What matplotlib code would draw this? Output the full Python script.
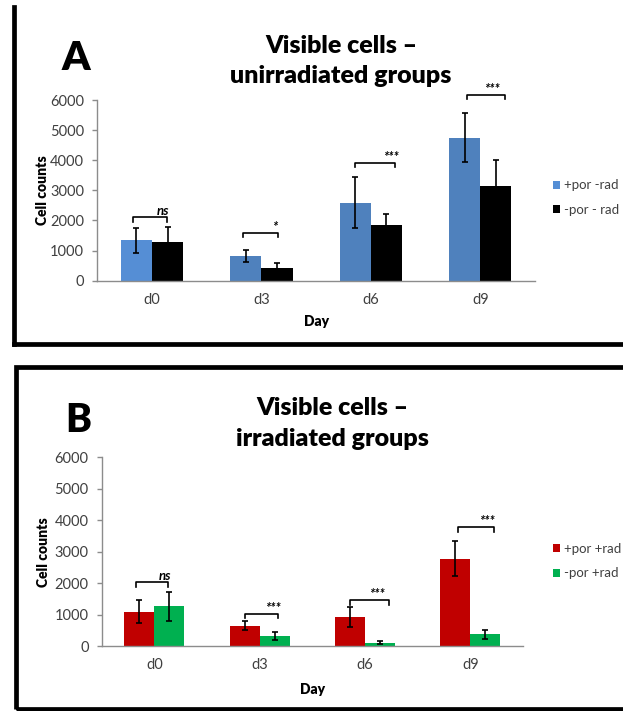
import matplotlib
matplotlib.use("Agg")
import matplotlib.pyplot as plt
from matplotlib.patches import Rectangle
from matplotlib.lines import Line2D
import numpy as np

plt.rcParams['font.family'] = ['Lato', 'DejaVu Sans']

# data
days = ["d0", "d3", "d6", "d9"]

# panel A (unirradiated)
a_labels = ["+por -rad", "-por - rad"]
a_plus = [1340, 820, 2590, 4750]
a_plus_err = [405, 210, 840, 815]
a_minus = [1290, 410, 1850, 3140]
a_minus_err = [480, 165, 365, 860]
a_sig = ["ns", "*", "***", "***"]
a_br_top = [2115, 1595, 3920, 6180]
a_br_left = [-0.17, -0.17, -0.143, -0.125]
a_br_right = [0.137, 0.15, 0.22, 0.228]
a_sig_dx = [0.10, 0.12, 0.18, 0.11]

# panel B (irradiated)
b_labels = ["+por +rad", "-por +rad"]
b_plus = [1090, 650, 930, 2780]
b_plus_err = [370, 145, 320, 560]
b_minus = [1270, 320, 100, 370]
b_minus_err = [460, 140, 45, 140]
b_sig = ["ns", "***", "***", "***"]
b_br_top = [2025, 1029, 1453, 3786]
b_br_left = [-0.175, -0.14, -0.145, -0.117]
b_br_right = [0.13, 0.17, 0.225, 0.222]
b_sig_dx = [0.10, 0.126, 0.114, 0.156]

W, H = 623, 711
fig = plt.figure(figsize=(W / 100, H / 100), dpi=100)
fig.patch.set_facecolor("white")


def fx(x):
    return x / W


def fy(y):
    return 1 - y / H


def panel(rect, plus, plus_err, minus, minus_err, c_plus, c_minus, labels,
          sig, br_top, br_left, br_right, sig_dx, leg_y):
    ax = fig.add_axes(rect)
    x = np.arange(len(days))
    w = 0.285
    ekw = dict(ecolor="black", elinewidth=1.2, capsize=2.3, capthick=1.2)
    ax.bar(x - w / 2, plus, w, yerr=plus_err, color=c_plus, error_kw=ekw,
           label=labels[0])
    ax.bar(x + w / 2, minus, w, yerr=minus_err, color=c_minus, error_kw=ekw,
           label=labels[1])
    ax.set_xlim(-0.5, 3.5)
    ax.set_ylim(0, 6000)
    ax.set_yticks(range(0, 6001, 1000))
    ax.set_xticks(x)
    ax.set_xticklabels(days)
    for s in ["top", "right"]:
        ax.spines[s].set_visible(False)
    for s in ["left", "bottom"]:
        ax.spines[s].set_color("#8c8c8c")
        ax.spines[s].set_linewidth(1.0)
    ax.tick_params(axis="y", length=3.4, width=1.0, color="#8c8c8c",
                   pad=6, labelsize=10.5, labelcolor="#404040")
    ax.tick_params(axis="x", length=0, pad=8.5, labelsize=10.5,
                   labelcolor="#404040")
    # significance brackets
    leg = 150
    for i in range(len(days)):
        xl, xr, yt = i + br_left[i], i + br_right[i], br_top[i]
        ax.plot([xl, xl, xr, xr], [yt - leg, yt, yt, yt - leg],
                color="black", lw=1.2, clip_on=False)
        ax.annotate(sig[i], (i + sig_dx[i], yt), xytext=(0, 0),
                    textcoords="offset points", ha="center", va="bottom",
                    fontsize=9.5, fontweight="bold", fontstyle="italic",
                    annotation_clip=False)
    ax.legend(loc="center left", bbox_to_anchor=(fx(553), fy(leg_y)),
              bbox_transform=fig.transFigure, frameon=False, fontsize=9.5,
              handlelength=0.55, handleheight=0.55, handletextpad=0.3,
              labelspacing=0.95, borderpad=0, borderaxespad=0,
              labelcolor="#404040")
    return ax


# panel A
axA = panel([fx(97.3), fy(280.7), fx(535) - fx(97.3), fy(100) - fy(280.7)],
            a_plus, a_plus_err, a_minus, a_minus_err,
            ["#558ED5", "#4F81BD", "#4F81BD", "#4F81BD"], "black", a_labels,
            a_sig, a_br_top, a_br_left, a_br_right, a_sig_dx, 197.5)
fig.text(fx(76), fy(70), "A", fontsize=29, fontweight="heavy",
         ha="center", va="baseline")
fig.text(fx(341), fy(53), "Visible cells \u2013", fontsize=18,
         fontweight="heavy", ha="center", va="baseline")
fig.text(fx(341), fy(83), "unirradiated groups", fontsize=18,
         fontweight="heavy", ha="center", va="baseline")
fig.text(fx(42.5), fy(190), "Cell counts", fontsize=10, fontweight="heavy",
         rotation=90, ha="center", va="center")
fig.text(fx(317), fy(321.5), "Day", fontsize=10, fontweight="heavy",
         ha="center", va="center")

# panel B
axB = panel([fx(101.7), fy(646), fx(523) - fx(101.7), fy(457.3) - fy(646)],
            b_plus, b_plus_err, b_minus, b_minus_err,
            "#C00000", "#00B050", b_labels,
            b_sig, b_br_top, b_br_left, b_br_right, b_sig_dx, 561)
fig.text(fx(78), fy(432.3), "B", fontsize=28, fontweight="heavy",
         ha="center", va="baseline")
fig.text(fx(332), fy(415), "Visible cells \u2013", fontsize=18,
         fontweight="heavy", ha="center", va="baseline")
fig.text(fx(332), fy(445.7), "irradiated groups", fontsize=18,
         fontweight="heavy", ha="center", va="baseline")
fig.text(fx(43.6), fy(551.7), "Cell counts", fontsize=10, fontweight="heavy",
         rotation=90, ha="center", va="center")
fig.text(fx(313), fy(689.3), "Day", fontsize=10, fontweight="heavy",
         ha="center", va="center")

# panel frames
lw_frame = 3.4
fig.add_artist(Line2D([fx(14.3), fx(14.3)], [fy(7), fy(344)],
                      transform=fig.transFigure, color="black", lw=lw_frame,
                      solid_capstyle="projecting"))
fig.add_artist(Line2D([fx(14.3), fx(640)], [fy(344), fy(344)],
                      transform=fig.transFigure, color="black", lw=lw_frame,
                      solid_capstyle="projecting"))
fig.add_artist(Rectangle((fx(16), fy(709)), fx(660) - fx(16),
                         fy(367) - fy(709), transform=fig.transFigure,
                         fill=False, edgecolor="black", lw=lw_frame))

fig.savefig("out.png", dpi=100)
